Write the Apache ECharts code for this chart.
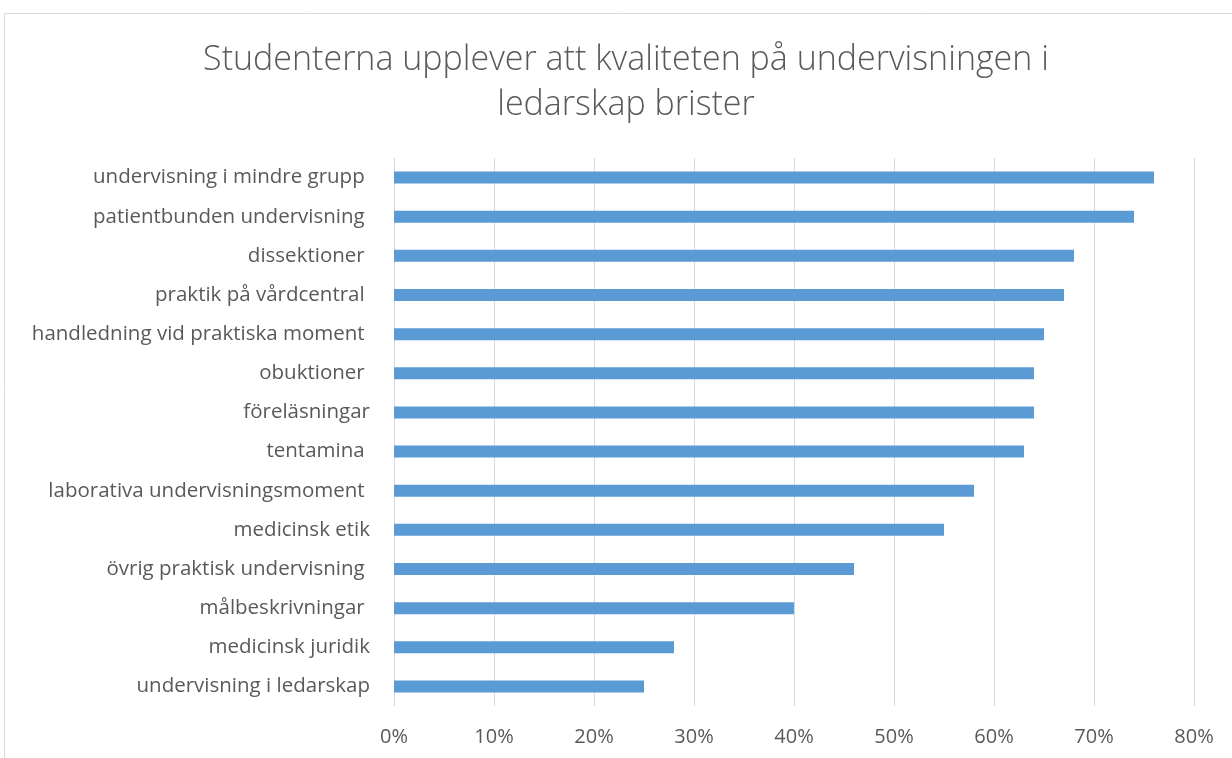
<!DOCTYPE html>
<html>
<head>
<meta charset="utf-8">
<script src="https://cdn.jsdelivr.net/npm/echarts@6/dist/echarts.min.js"></script>
<style>
html,body{margin:0;padding:0;background:#fff;}
#chart{width:1232px;height:758px;}
</style>
</head>
<body>
<div id="chart"></div>
<script>
const titleLines = ['Studenterna upplever att kvaliteten på undervisningen i', 'ledarskap brister'];
const categories = [
  'undervisning i mindre grupp ',
  'patientbunden undervisning ',
  'dissektioner ',
  'praktik på vårdcentral ',
  'handledning vid praktiska moment ',
  'obuktioner ',
  'föreläsningar',
  'tentamina ',
  'laborativa undervisningsmoment ',
  'medicinsk etik',
  'övrig praktisk undervisning ',
  'målbeskrivningar ',
  'medicinsk juridik',
  'undervisning i ledarskap'
];
const values = [0.76, 0.74, 0.68, 0.67, 0.65, 0.64, 0.64, 0.63, 0.58, 0.55, 0.46, 0.40, 0.28, 0.25];
const xTicks = [0, 0.1, 0.2, 0.3, 0.4, 0.5, 0.6, 0.7, 0.8];

const FONT = '"Open Sans"';
const chart = echarts.init(document.getElementById('chart'), null, {renderer: 'canvas'});
chart.setOption({
  animation: false,
  backgroundColor: '#ffffff',
  graphic: [
    {type: 'rect', silent: true, shape: {x: 4.5, y: 13.5, width: 1400, height: 900},
     style: {fill: 'none', stroke: '#D9D9D9', lineWidth: 1}},
    {type: 'text', x: 626, y: 60, style: {text: titleLines[0], fill: '#595959', font: '300 34px ' + FONT, textAlign: 'center', textVerticalAlign: 'middle'}},
    {type: 'text', x: 626, y: 105, style: {text: titleLines[1], fill: '#595959', font: '300 34px ' + FONT, textAlign: 'center', textVerticalAlign: 'middle'}}
  ],
  grid: {left: 394, right: 38, top: 158, bottom: 52, containLabel: false},
  xAxis: {
    type: 'value', min: 0, max: 0.8, interval: 0.1,
    axisLine: {show: false}, axisTick: {show: false},
    splitLine: {show: true, lineStyle: {color: '#D9D9D9', width: 1}},
    axisLabel: {color: '#595959', fontFamily: 'Open Sans', fontSize: 20, margin: 21,
      formatter: v => Math.round(v * 100) + '%'}
  },
  yAxis: {
    type: 'category', data: categories, inverse: true,
    axisLine: {show: true, lineStyle: {color: '#D9D9D9', width: 1}},
    axisTick: {show: false},
    axisLabel: {color: '#595959', fontFamily: 'Open Sans', fontSize: 20.5, margin: 24}
  },
  series: [{
    type: 'bar', data: values, barWidth: 12,
    itemStyle: {color: '#5B9BD5'}
  }]
});
</script>
</body>
</html>
